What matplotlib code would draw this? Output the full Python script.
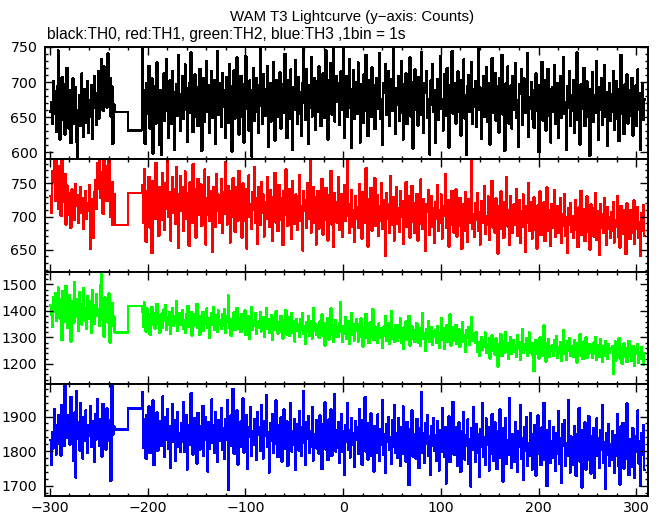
import numpy as np
import matplotlib
matplotlib.use("Agg")
import matplotlib.pyplot as plt
from matplotlib.ticker import MultipleLocator

# ---------------- data (counts per 1 s bin) ----------------
# first stretch: bins starting at -300 s, 1 s wide
# gap: two wide bins with edges given in gap_edges
# second stretch: 1 s bins starting at -206 s
gap_edges = [-234, -220, -206]

th0_a = [
    658, 672, 640, 701, 688, 655, 629, 694, 745, 662,
    618, 683, 707, 646, 671, 625, 698, 720, 652, 634,
    689, 613, 676, 705, 641, 667, 692, 615, 593, 660,
    681, 637, 712, 655, 622, 690, 669, 642, 701, 628,
    674, 651, 696, 619, 663, 708, 685, 639, 671, 716,
    648, 697, 733, 675, 659, 722, 690, 712, 664, 741,
    683, 706, 651, 694, 612, 668]
th0_gap = [657, 631]
th0_b = [
    752, 640, 688, 612, 671, 699, 655, 723, 634, 680, 705, 598, 662, 694, 641, 728, 676, 653, 610, 689,
    596, 668, 712, 645, 690, 733, 659, 621, 702, 677, 640, 715, 686, 604, 664, 697, 652, 739, 671, 630,
    683, 708, 647, 660, 725, 691, 615, 673, 656, 700, 742, 668, 629, 684, 711, 650, 693, 637, 676, 719,
    661, 602, 688, 706, 643, 674, 730, 658, 695, 627, 681, 716, 649, 667, 703, 612, 685, 744, 654, 672,
    698, 636, 713, 665, 689, 620, 707, 678, 642, 726, 659, 694, 601, 671, 717, 648, 686, 735, 663, 625,
    690, 709, 651, 676, 614, 698, 737, 662, 684, 631, 702, 669, 594, 688, 720, 645, 674, 706, 657, 628,
    695, 748, 666, 640, 711, 679, 652, 690, 723, 608, 677, 699, 644, 668, 729, 661, 617, 703, 686, 650,
    672, 714, 634, 697, 681, 656, 740, 665, 620, 702, 688, 647, 718, 675, 603, 693, 660, 731, 679, 641,
    707, 655, 685, 624, 699, 751, 670, 646, 719, 683, 612, 696, 664, 736, 651, 689, 706, 632, 675, 701,
    658, 722, 681, 637, 694, 712, 649, 670, 745, 663, 618, 702, 686, 727, 654, 691, 752, 644, 676, 709,
    672, 698, 639, 715, 683, 660, 753, 621, 694, 708, 651, 679, 733, 664, 606, 690, 717, 647, 681, 700,
    655, 728, 669, 614, 697, 685, 642, 711, 676, 739, 658, 623, 702, 688, 650, 721, 671, 695, 633, 680,
    706, 662, 693, 741, 648, 675, 610, 699, 684, 726, 653, 670, 715, 637, 687, 704, 659, 748, 678, 626,
    691, 668, 709, 645, 683, 730, 656, 618, 697, 674, 712, 640, 686, 663, 735, 651, 700, 605, 679, 718,
    661, 694, 638, 707, 682, 654, 743, 671, 627, 698, 685, 716, 649, 676, 597, 702, 667, 725, 658, 689,
    613, 680, 704, 646, 693, 737, 662, 675, 631, 711, 688, 652, 720, 669, 607, 696, 678, 744, 655, 684,
    699, 641, 672, 715, 658, 687, 624, 703, 666, 732, 648, 681, 596, 694, 710, 657, 676, 729, 640, 690,
    665, 701, 636, 684, 747, 660, 692, 619, 677, 708, 650, 688, 721, 643, 671, 699, 611, 685, 734, 656,
    680, 713, 645, 667, 694, 628, 706, 673, 739, 654, 687, 602, 698, 664, 722, 641, 678, 695, 634, 709,
    661, 686, 727, 649, 674, 608, 697, 683, 718, 639, 670, 705, 656, 690, 741, 622, 679, 662, 700, 647,
    688, 635, 673, 712, 659, 684, 600, 696, 667, 729, 645, 678, 702, 631, 661, 719, 652, 690, 614, 675,
    693, 657, 724, 640, 679, 698, 621, 666, 708, 649, 685, 736, 655, 672, 604, 694, 663, 716, 638, 681,
    659, 703, 627, 688, 670, 742, 646, 676, 611, 697, 662, 684, 720, 637, 668, 701, 650, 679, 595, 690,
    665, 714, 643, 682, 656, 730, 671, 618, 693, 660, 706, 639, 677, 724, 651, 686, 609, 669, 699, 645,
    683, 658, 716, 632, 674, 701, 648, 690, 616, 667, 739, 655, 680, 626, 697, 662, 711, 641, 673, 688,
    652, 706, 624, 679, 663, 695, 637, 718, 660, 684, 603, 671, 699, 646, 675]

th1_a = [
    731, 705, 768, 752, 789, 724, 790, 743, 712, 776,
    758, 701, 790, 735, 722, 764, 688, 747, 719, 702,
    736, 683, 741, 711, 726, 695, 749, 716, 732, 690,
    722, 744, 706, 728, 681, 714, 739, 697, 720, 708,
    748, 651, 703, 726, 668, 737, 755, 712, 781, 742,
    790, 729, 767, 751, 704, 788, 739, 776, 723, 760,
    785, 741, 699, 752, 687, 734]
th1_gap = [687, 736]
th1_b = [
    748, 690, 772, 715, 662, 738, 701, 760, 683, 729, 645, 754, 719, 696, 781, 708, 733, 671, 745, 722,
    695, 766, 728, 680, 751, 712, 787, 699, 737, 664, 723, 759, 706, 742, 689, 775, 718, 653, 733, 761,
    709, 744, 678, 726, 768, 697, 735, 715, 656, 752, 724, 690, 779, 711, 741, 668, 730, 757, 702, 720,
    749, 686, 735, 712, 771, 658, 727, 703, 760, 694, 738, 717, 647, 745, 729, 684, 764, 709, 733, 691,
    719, 756, 675, 737, 704, 782, 714, 688, 746, 726, 661, 739, 700, 758, 713, 677, 744, 722, 694, 769,
    706, 731, 668, 750, 716, 693, 741, 652, 724, 762, 699, 718, 681, 737, 710, 774, 690, 728, 659, 745,
    713, 687, 752, 705, 733, 670, 721, 697, 759, 708, 684, 740, 716, 663, 729, 702, 766, 691, 735, 678,
    748, 711, 695, 727, 657, 739, 703, 771, 719, 686, 742, 700, 726, 666, 754, 712, 689, 733, 705, 680,
    731, 762, 694, 716, 649, 738, 708, 725, 683, 751, 697, 720, 786, 676, 710, 744, 690, 729, 658, 704,
    739, 682, 718, 701, 757, 673, 727, 695, 743, 711, 664, 732, 698, 769, 688, 715, 654, 736, 707, 691,
    722, 759, 680, 705, 734, 669, 712, 748, 694, 727, 787, 701, 676, 719, 740, 685, 709, 662, 731, 697,
    714, 683, 749, 702, 724, 667, 737, 690, 711, 773, 695, 655, 726, 706, 743, 679, 718, 699, 758, 686,
    705, 732, 671, 716, 693, 750, 681, 724, 708, 640, 735, 697, 719, 676, 761, 703, 687, 729, 664, 710,
    744, 689, 712, 677, 738, 700, 723, 659, 717, 695, 752, 684, 706, 731, 668, 713, 746, 692, 720, 675,
    699, 734, 664, 711, 689, 756, 703, 681, 726, 694, 648, 719, 707, 740, 672, 698, 731, 685, 713, 660,
    722, 696, 747, 678, 709, 690, 733, 667, 716, 701, 764, 683, 697, 725, 655, 710, 688, 739, 693, 676,
    715, 741, 670, 703, 686, 728, 694, 651, 719, 708, 678, 737, 699, 662, 726, 690, 712, 783, 681, 704,
    669, 720, 695, 735, 679, 706, 658, 723, 691, 713, 746, 674, 700, 687, 730, 665, 709, 694, 754, 683,
    711, 676, 727, 698, 644, 716, 690, 738, 681, 704, 668, 722, 697, 760, 685, 709, 657, 731, 693, 675,
    718, 688, 703, 742, 671, 696, 725, 660, 708, 684, 733, 699, 647, 715, 690, 751, 678, 701, 722, 667,
    694, 729, 680, 706, 652, 717, 689, 738, 672, 700, 685, 721, 663, 696, 744, 678, 710, 691, 656, 719,
    683, 705, 740, 669, 697, 716, 675, 690, 728, 661, 703, 686, 734, 671, 699, 645, 712, 688, 720, 677,
    701, 668, 693, 725, 680, 707, 654, 714, 689, 739, 672, 696, 711, 663, 684, 730, 677, 702, 650, 718,
    686, 712, 670, 698, 736, 665, 691, 708, 642, 719, 683, 704, 675, 727, 690, 657, 714, 681, 699, 668,
    707, 679, 722, 661, 694, 685, 731, 670, 700, 653, 716, 688, 674, 709, 693, 643, 720, 682, 697, 666,
    710, 676, 689, 724, 659, 698, 681, 714, 668, 692, 640, 705, 679, 717, 671]

th2_a = [
    1420, 1385, 1340, 1452, 1398, 1467, 1362, 1431, 1489, 1405,
    1371, 1443, 1290, 1476, 1412, 1358, 1495, 1423, 1336, 1460,
    1389, 1284, 1437, 1401, 1355, 1508, 1417, 1378, 1446, 1325,
    1470, 1394, 1349, 1426, 1486, 1363, 1410, 1331, 1455, 1402,
    1372, 1436, 1318, 1479, 1392, 1350, 1421, 1464, 1383, 1406,
    1343, 1498, 1541, 1367, 1429, 1302, 1451, 1388, 1414, 1356,
    1466, 1281, 1397, 1430, 1342, 1380]
th2_gap = [1319, 1419]
th2_b = [
    1398, 1341, 1432, 1376, 1322, 1409, 1355, 1387, 1310, 1371, 1415, 1347, 1392, 1333, 1368, 1426, 1351, 1384, 1318, 1362,
    1390, 1337, 1405, 1364, 1421, 1329, 1376, 1349, 1397, 1315, 1368, 1412, 1342, 1381, 1357, 1438, 1326, 1370, 1393, 1346,
    1374, 1402, 1331, 1365, 1318, 1386, 1350, 1419, 1339, 1362, 1395, 1307, 1371, 1344, 1388, 1352, 1426, 1335, 1367, 1310,
    1380, 1343, 1397, 1325, 1368, 1352, 1409, 1336, 1373, 1298, 1362, 1391, 1346, 1415, 1330, 1357, 1384, 1320, 1401, 1349,
    1366, 1331, 1388, 1344, 1407, 1317, 1359, 1379, 1458, 1338, 1352, 1306, 1370, 1341, 1395, 1327, 1361, 1412, 1334, 1355,
    1372, 1320, 1389, 1351, 1334, 1402, 1309, 1363, 1340, 1381, 1295, 1357, 1416, 1328, 1366, 1345, 1392, 1312, 1359, 1337,
    1361, 1394, 1323, 1348, 1377, 1302, 1355, 1410, 1332, 1368, 1318, 1346, 1385, 1290, 1352, 1373, 1327, 1399, 1339, 1314,
    1358, 1320, 1382, 1341, 1296, 1364, 1329, 1403, 1311, 1350, 1375, 1306, 1343, 1392, 1318, 1361, 1285, 1347, 1370, 1325,
    1349, 1302, 1368, 1330, 1391, 1314, 1342, 1277, 1356, 1320, 1381, 1307, 1338, 1363, 1296, 1411, 1325, 1352, 1310, 1334,
    1343, 1298, 1361, 1315, 1386, 1306, 1332, 1270, 1355, 1321, 1374, 1292, 1337, 1409, 1311, 1348, 1283, 1327, 1365, 1302,
    1339, 1301, 1356, 1432, 1320, 1283, 1344, 1312, 1378, 1296, 1329, 1362, 1275, 1335, 1391, 1308, 1350, 1289, 1326, 1368,
    1330, 1285, 1349, 1303, 1372, 1318, 1266, 1340, 1297, 1388, 1311, 1334, 1279, 1356, 1301, 1325, 1407, 1290, 1343, 1308,
    1327, 1280, 1352, 1299, 1335, 1314, 1262, 1341, 1306, 1379, 1288, 1322, 1353, 1274, 1316, 1398, 1295, 1331, 1284, 1345,
    1323, 1287, 1346, 1300, 1371, 1279, 1318, 1257, 1337, 1304, 1360, 1292, 1326, 1381, 1270, 1313, 1342, 1296, 1329, 1283,
    1319, 1354, 1281, 1307, 1336, 1268, 1322, 1391, 1293, 1315, 1249, 1330, 1298, 1361, 1284, 1311, 1340, 1273, 1325, 1302,
    1326, 1279, 1343, 1305, 1262, 1317, 1372, 1290, 1334, 1256, 1308, 1346, 1283, 1321, 1295, 1386, 1270, 1312, 1337, 1288,
    1318, 1347, 1276, 1303, 1331, 1264, 1322, 1291, 1359, 1282, 1310, 1244, 1327, 1298, 1340, 1271, 1306, 1378, 1287, 1315,
    1301, 1279, 1320, 1245, 1283, 1230, 1271, 1302, 1252, 1289, 1264, 1318, 1240, 1276, 1259, 1296, 1221, 1268, 1307, 1249,
    1281, 1236, 1297, 1258, 1190, 1273, 1249, 1312, 1230, 1267, 1286, 1242, 1320, 1255, 1279, 1219, 1262, 1301, 1238, 1274,
    1290, 1245, 1271, 1227, 1308, 1256, 1283, 1214, 1266, 1332, 1240, 1275, 1252, 1296, 1229, 1261, 1318, 1243, 1279, 1233,
    1277, 1172, 1253, 1291, 1238, 1268, 1220, 1300, 1257, 1284, 1231, 1345, 1262, 1209, 1279, 1246, 1293, 1225, 1265, 1250,
    1272, 1231, 1289, 1248, 1306, 1224, 1263, 1240, 1281, 1211, 1258, 1327, 1237, 1270, 1215, 1285, 1249, 1296, 1229, 1266,
    1268, 1226, 1290, 1243, 1262, 1205, 1279, 1255, 1312, 1232, 1267, 1218, 1284, 1246, 1300, 1222, 1259, 1238, 1274, 1249,
    1262, 1223, 1281, 1239, 1301, 1214, 1257, 1270, 1228, 1293, 1245, 1206, 1266, 1232, 1286, 1250, 1219, 1275, 1241, 1258,
    1256, 1268, 1162, 1229, 1284, 1213, 1251, 1236, 1297, 1220, 1263, 1200, 1244, 1278, 1225, 1261, 1207, 1249, 1287, 1231,
    1250, 1211, 1268, 1226, 1193, 1255, 1238, 1276, 1204, 1244, 1219, 1263, 1227, 1198, 1241]

th3_a = [
    1832, 1761, 1855, 1808, 1921, 1876, 1790, 1843, 1905, 1822,
    1869, 1787, 1934, 1851, 1815, 1992, 1880, 1838, 1903, 1866,
    1819, 1957, 1894, 1848, 1771, 1912, 1724, 1973, 1836, 1885,
    1802, 1940, 1857, 1779, 1898, 1829, 1917, 1862, 1794, 1876,
    1843, 1929, 1811, 1888, 1850, 1769, 1906, 1834, 1951, 1871,
    1816, 1893, 1857, 1784, 1937, 1842, 1878, 1805, 1923, 1862,
    1829, 1889, 1714, 1996, 1848, 1871]
th3_gap = [1862, 1923]
th3_b = [
    1972, 1810, 1893, 1836, 1778, 1905, 1851, 1929, 1794, 1868, 1822, 1946, 1759, 1880, 1843, 1912, 1801, 1864, 1827, 1887,
    1815, 1958, 1860, 1783, 1899, 1834, 1921, 1806, 1873, 1752, 1849, 1937, 1828, 1890, 1771, 1866, 1914, 1812, 1853, 1797,
    1881, 1826, 1942, 1798, 1862, 1905, 1747, 1839, 1875, 1818, 1968, 1853, 1790, 1896, 1831, 1868, 1764, 1910, 1846, 1805,
    1872, 1819, 1931, 1786, 1855, 1897, 1833, 1741, 1884, 1807, 1863, 1949, 1824, 1876, 1795, 1912, 1842, 1768, 1889, 1830,
    1858, 1924, 1803, 1866, 1777, 1892, 1834, 1947, 1688, 1851, 1815, 1904, 1841, 1980, 1792, 1873, 1826, 1918, 1761, 1855,
    1811, 1886, 1838, 1952, 1796, 1864, 1823, 1905, 1749, 1870, 1842, 1928, 1785, 1859, 1817, 1893, 1836, 1774, 1912, 1848,
    1869, 1801, 1934, 1827, 1779, 1888, 1845, 1962, 1812, 1856, 1738, 1881, 1829, 1907, 1795, 1862, 1820, 1946, 1838, 1783,
    1875, 1814, 1897, 1770, 1853, 1921, 1806, 1842, 1886, 1757, 1868, 1825, 1939, 1799, 1857, 1819, 1893, 1745, 1878, 1834,
    1802, 1915, 1846, 1786, 1869, 1974, 1823, 1761, 1884, 1837, 1900, 1796, 1858, 1811, 1927, 1773, 1849, 1830, 1889, 1807,
    1866, 1792, 1903, 1833, 1748, 1879, 1815, 1941, 1805, 1856, 1774, 1892, 1837, 1920, 1786, 1848, 1821, 1966, 1799, 1860,
    1810, 1883, 1767, 1842, 1906, 1797, 1858, 1731, 1874, 1826, 1938, 1803, 1861, 1782, 1895, 1819, 1853, 1754, 1887, 1832,
    1869, 1791, 1922, 1815, 1847, 1760, 1890, 1832, 1956, 1799, 1838, 1775, 1881, 1824, 1909, 1786, 1852, 1741, 1873, 1818,
    1794, 1906, 1835, 1772, 1863, 1819, 1947, 1788, 1850, 1737, 1877, 1826, 1898, 1803, 1841, 1762, 1889, 1812, 1934, 1796,
    1852, 1781, 1896, 1823, 1757, 1868, 1806, 1929, 1791, 1845, 1770, 1884, 1829, 1702, 1862, 1810, 1917, 1784, 1848, 1825,
    1779, 1893, 1834, 1751, 1866, 1808, 1971, 1795, 1851, 1766, 1880, 1822, 1904, 1787, 1843, 1730, 1872, 1814, 1895, 1800,
    1846, 1773, 1888, 1819, 1744, 1861, 1797, 1925, 1830, 1784, 1869, 1706, 1853, 1812, 1900, 1768, 1839, 1792, 1943, 1825,
    1788, 1870, 1806, 1757, 1883, 1822, 1740, 1859, 1799, 1914, 1776, 1847, 1815, 1891, 1763, 1834, 1698, 1866, 1803, 1927,
    1832, 1769, 1878, 1796, 1850, 1725, 1862, 1811, 1939, 1783, 1841, 1759, 1894, 1817, 1870, 1744, 1826, 1791, 1907, 1805,
    1771, 1883, 1819, 1748, 1858, 1797, 1921, 1780, 1843, 1712, 1867, 1809, 1896, 1763, 1831, 1789, 1954, 1815, 1752, 1849,
    1826, 1768, 1885, 1793, 1741, 1857, 1812, 1932, 1778, 1838, 1716, 1870, 1801, 1899, 1757, 1823, 1786, 1911, 1809, 1747,
    1850, 1784, 1876, 1729, 1820, 1903, 1791, 1845, 1759, 1868, 1812, 1940, 1775, 1832, 1699, 1861, 1796, 1887, 1766, 1828,
    1781, 1869, 1807, 1742, 1853, 1793, 1915, 1764, 1836, 1709, 1878, 1815, 1890, 1757, 1824, 1786, 1947, 1799, 1738, 1842,
    1820, 1760, 1873, 1788, 1728, 1849, 1802, 1924, 1770, 1835, 1695, 1861, 1794, 1883, 1747, 1815, 1776, 1901, 1807, 1735,
    1843, 1779, 1866, 1722, 1812, 1894, 1785, 1838, 1751, 1860, 1804, 1933, 1767, 1826, 1690, 1852, 1789, 1879, 1758, 1821,
    1774, 1858, 1800, 1736, 1846, 1786, 1908, 1757, 1829, 1703, 1871, 1808, 1882, 1750, 1817, 1779, 1938, 1791, 1731, 1834,
    1813, 1754, 1866, 1782, 1722, 1843, 1797, 1917, 1764, 1828, 1700, 1852, 1789, 1876, 1745]

series = [
    (th0_a, th0_gap, th0_b, "#000000", (590, 750), 50, 10),
    (th1_a, th1_gap, th1_b, "#ff0000", (617, 786.5), 50, 10),
    (th2_a, th2_gap, th2_b, "#00ff00", (1125, 1549), 100, 20),
    (th3_a, th3_gap, th3_b, "#0000ff", (1670, 1995), 100, 20),
]

title = "WAM T3 Lightcurve (y\u2212axis: Counts)"
subtitle = "black:TH0, red:TH1, green:TH2, blue:TH3 ,1bin = 1s"

# ---------------- figure ----------------
W, H = 661, 515
plt.rcParams["font.family"] = ["DejaVu Sans"]
fig = plt.figure(figsize=(W / 100, H / 100), dpi=100)

left_px, right_px = 45, 648
top_px, bot_px = 47, 496
ph = (bot_px - top_px) / 4.0

for i, (a, g, b, col, ylim, maj, mnr) in enumerate(series):
    ax = fig.add_axes([left_px / W, 1 - (top_px + (i + 1) * ph) / H,
                       (right_px - left_px) / W, ph / H])
    vals = list(a) + list(g) + list(b)
    start_a = gap_edges[0] - len(a)
    edges = np.concatenate([
        np.arange(start_a, gap_edges[0]),
        np.array(gap_edges[:-1]),
        np.arange(gap_edges[-1], gap_edges[-1] + len(b) + 1),
    ])
    ax.stairs(vals, edges, color=col, lw=1.0, baseline=None, antialiased=False)
    ax.set_xlim(-305, 312)
    ax.set_ylim(*ylim)
    ax.xaxis.set_major_locator(MultipleLocator(100))
    ax.xaxis.set_minor_locator(MultipleLocator(20))
    ax.yaxis.set_major_locator(MultipleLocator(maj))
    ax.yaxis.set_minor_locator(MultipleLocator(mnr))
    ax.tick_params(which="both", direction="in", top=True, right=True,
                   width=1.0, labelsize=10.2, colors="black")
    ax.tick_params(which="major", length=5.5)
    ax.tick_params(which="minor", length=2.5)
    ax.tick_params(axis="y", pad=5.5)
    ax.tick_params(axis="x", pad=3.5)
    for s in ax.spines.values():
        s.set_linewidth(1.4)
    if i < 3:
        ax.tick_params(labelbottom=False)

fig.text(352 / W, 1 - 17 / H, title, ha="center", va="center", fontsize=10.8,
         family=["Liberation Sans", "DejaVu Sans"])
fig.text(47 / W, 1 - 35 / H, subtitle, ha="left", va="center", fontsize=11.2,
         family=["Liberation Sans", "DejaVu Sans"])

fig.savefig("out.png", dpi=100)
